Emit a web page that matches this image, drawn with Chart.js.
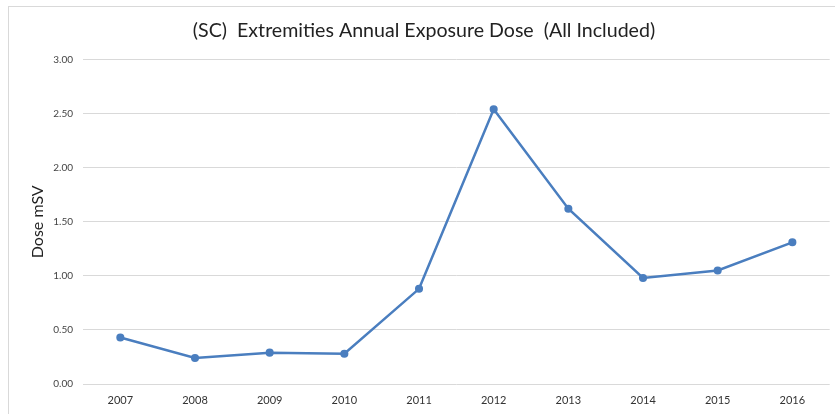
<!DOCTYPE html>
<html>
<head>
<meta charset="utf-8">
<script src="https://cdn.jsdelivr.net/npm/chart.js@4.4.1/dist/chart.umd.min.js"></script>
<style>
  html, body { margin: 0; padding: 0; background: #ffffff; }
  #wrap { position: relative; width: 835px; height: 414px; }
</style>
</head>
<body>
<div id="wrap"><canvas id="chart" width="835" height="414"></canvas></div>
<script>
// Annual extremities dose per year (mSv)
const years = ['2007', '2008', '2009', '2010', '2011', '2012', '2013', '2014', '2015', '2016'];
const doses = [0.43, 0.24, 0.29, 0.28, 0.88, 2.54, 1.62, 0.98, 1.05, 1.31];
const yTicks = [0, 0.5, 1, 1.5, 2, 2.5, 3];

const chartTitle = '(SC)  Extremities Annual Exposure Dose  (All Included)';
const yAxisTitle = 'Dose mSV';

// Light frame around the whole chart object
const framePlugin = {
  id: 'frame',
  beforeDraw(chart) {
    const ctx = chart.ctx;
    ctx.save();
    ctx.fillStyle = '#ffffff';
    ctx.fillRect(0, 0, chart.width, chart.height);
    ctx.strokeStyle = '#d9d9d9';
    ctx.lineWidth = 1;
    ctx.strokeRect(8.5, 6.5, 900, 500);
    ctx.restore();
  }
};

new Chart(document.getElementById('chart'), {
  type: 'line',
  data: {
    labels: years,
    datasets: [{
      data: doses,
      borderColor: '#4a7ebf',
      backgroundColor: '#4a7ebf',
      borderWidth: 2.5,
      pointRadius: 2.8,
      pointHoverRadius: 2.8,
      tension: 0,
      fill: false
    }]
  },
  options: {
    responsive: false,
    animation: false,
    layout: { padding: { left: 16, right: 3, top: 0, bottom: 0 } },
    plugins: {
      legend: { display: false },
      tooltip: { enabled: false },
      title: {
        display: true,
        text: chartTitle,
        color: '#222222',
        font: { family: 'Lato', size: 19.6, weight: 'normal' },
        padding: { top: 19, bottom: 17 }
      }
    },
    scales: {
      x: {
        offset: true,
        grid: { display: false, drawTicks: false },
        border: { display: false },
        ticks: {
          color: '#333333',
          font: { family: 'Lato', size: 11 },
          padding: 10,
          maxRotation: 0
        },
        afterFit(scale) { scale.height = 30; }
      },
      y: {
        min: 0,
        max: 3,
        afterBuildTicks(scale) { scale.ticks = yTicks.map(v => ({ value: v })); },
        grid: { color: '#d9d9d9', lineWidth: 1, drawTicks: false },
        border: { display: false },
        ticks: {
          color: '#444444',
          font: { family: 'Lato', size: 10 },
          padding: 10,
          callback: v => Number(v).toFixed(2)
        },
        title: {
          display: true,
          text: yAxisTitle,
          color: '#222222',
          font: { family: 'Lato', size: 16 },
          padding: { top: 12, bottom: 0 }
        },
        afterFit(scale) { scale.width = 67; }
      }
    }
  },
  plugins: [framePlugin]
});
</script>
</body>
</html>
